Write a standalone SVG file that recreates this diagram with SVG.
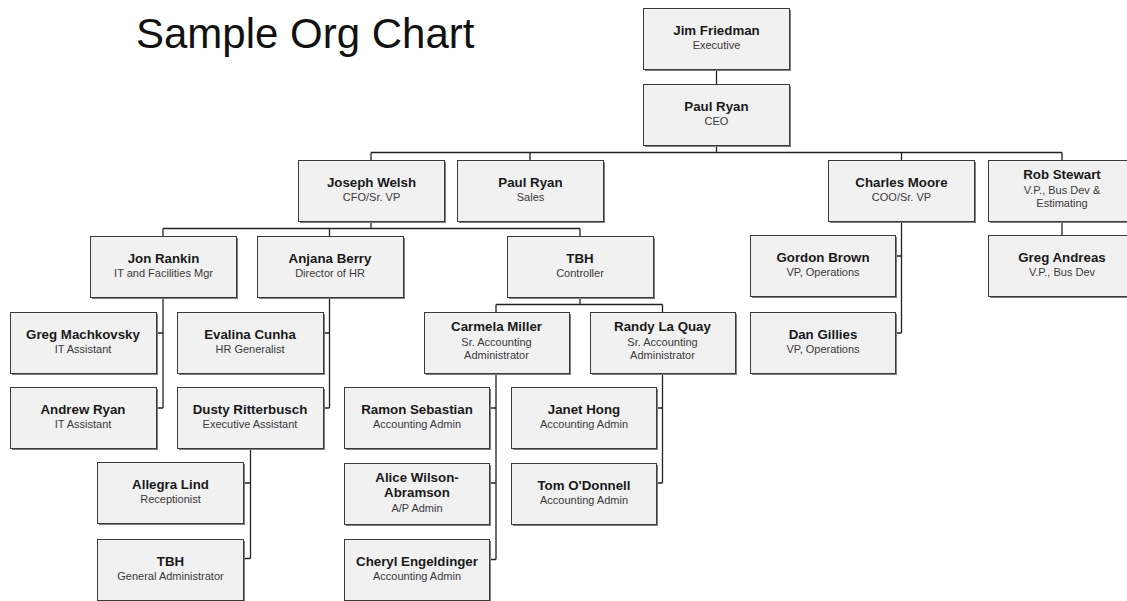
<svg xmlns="http://www.w3.org/2000/svg" width="1127" height="601" viewBox="0 0 1127 601">
<style>
.sh{fill:#808080}
.bx{fill:#f1f1f1;stroke:#3a3a3a;stroke-width:1}
.nm{font-family:"Liberation Sans",Arial,sans-serif;font-weight:bold;font-size:13.3px;fill:#1a1a1a;text-anchor:middle}
.sb{font-family:"Liberation Sans",Arial,sans-serif;font-size:11px;fill:#3a3a3a;text-anchor:middle}
.ttl{font-family:"Liberation Sans",Arial,sans-serif;font-size:42px;fill:#111}
.cn{stroke:#222;stroke-width:1.3;fill:none}
</style>
<rect width="1127" height="601" fill="#fff"/>
<text class="ttl" x="136" y="48">Sample Org Chart</text>
<g id="connectors">
<path class="cn" d="M716.5 69V84M716.5 145V152.5M371 152.5H1062M371 152.5V160M530 152.5V160M901.5 152.5V160M1062 152.5V160"/>
<path class="cn" d="M371 221V228.5M163 228.5H580M163 228.5V236M329.5 228.5V236M580 228.5V236"/>
<path class="cn" d="M163 297V408M156 333H163M156 408H163"/>
<path class="cn" d="M329.5 297V408M323 333H329.5M323 408H329.5"/>
<path class="cn" d="M250.5 448V558.5M243 483H250.5M243 558.5H250.5"/>
<path class="cn" d="M580 297V304.5M496 304.5H662.5M496 304.5V312M662.5 304.5V312"/>
<path class="cn" d="M496 373V559.5M489 408H496M489 483H496M489 559.5H496"/>
<path class="cn" d="M662.5 373V483M656 408H662.5M656 483H662.5"/>
<path class="cn" d="M901.5 221V333M895 256H901.5M895 333H901.5"/>
<path class="cn" d="M1062 221V235"/>
</g>
<g id="jim"><rect class="sh" x="645" y="10" width="146" height="61"/><rect class="bx" x="643.5" y="8.5" width="146" height="61"/><text class="nm" x="716.5" y="34.5">Jim Friedman</text><text class="sb" x="716.5" y="49">Executive</text></g>
<g id="ceo"><rect class="sh" x="645" y="86" width="146" height="61"/><rect class="bx" x="643.5" y="84.5" width="146" height="61"/><text class="nm" x="716.5" y="110.5">Paul Ryan</text><text class="sb" x="716.5" y="125">CEO</text></g>
<g id="welsh"><rect class="sh" x="300" y="162" width="146" height="61"/><rect class="bx" x="298.5" y="160.5" width="146" height="61"/><text class="nm" x="371.5" y="186.5">Joseph Welsh</text><text class="sb" x="371.5" y="201">CFO/Sr. VP</text></g>
<g id="sales"><rect class="sh" x="459" y="162" width="146" height="61"/><rect class="bx" x="457.5" y="160.5" width="146" height="61"/><text class="nm" x="530.5" y="186.5">Paul Ryan</text><text class="sb" x="530.5" y="201">Sales</text></g>
<g id="moore"><rect class="sh" x="830" y="162" width="146" height="61"/><rect class="bx" x="828.5" y="160.5" width="146" height="61"/><text class="nm" x="901.5" y="186.5">Charles Moore</text><text class="sb" x="901.5" y="201">COO/Sr. VP</text></g>
<g id="stewart"><rect class="sh" x="990" y="162" width="148" height="61"/><rect class="bx" x="988.5" y="160.5" width="148" height="61"/><text class="nm" x="1062" y="179">Rob Stewart</text><text class="sb" x="1062" y="194">V.P., Bus Dev &amp;</text><text class="sb" x="1062" y="207">Estimating</text></g>
<g id="andreas"><rect class="sh" x="990" y="237" width="148" height="61"/><rect class="bx" x="988.5" y="235.5" width="148" height="61"/><text class="nm" x="1062" y="261.5">Greg Andreas</text><text class="sb" x="1062" y="276">V.P., Bus Dev</text></g>
<g id="gbrown"><rect class="sh" x="752" y="237" width="145" height="61"/><rect class="bx" x="750.5" y="235.5" width="145" height="61"/><text class="nm" x="823" y="261.5">Gordon Brown</text><text class="sb" x="823" y="276">VP, Operations</text></g>
<g id="gillies"><rect class="sh" x="752" y="314" width="145" height="61"/><rect class="bx" x="750.5" y="312.5" width="145" height="61"/><text class="nm" x="823" y="338.5">Dan Gillies</text><text class="sb" x="823" y="353">VP, Operations</text></g>
<g id="rankin"><rect class="sh" x="92" y="238" width="146" height="61"/><rect class="bx" x="90.5" y="236.5" width="146" height="61"/><text class="nm" x="163.5" y="262.5">Jon Rankin</text><text class="sb" x="163.5" y="277">IT and Facilities Mgr</text></g>
<g id="berry"><rect class="sh" x="259" y="238" width="146" height="61"/><rect class="bx" x="257.5" y="236.5" width="146" height="61"/><text class="nm" x="330" y="262.5">Anjana Berry</text><text class="sb" x="330" y="277">Director of HR</text></g>
<g id="controller"><rect class="sh" x="509" y="238" width="146" height="61"/><rect class="bx" x="507.5" y="236.5" width="146" height="61"/><text class="nm" x="580" y="262.5">TBH</text><text class="sb" x="580" y="277">Controller</text></g>
<g id="machkovsky"><rect class="sh" x="12" y="314" width="146" height="61"/><rect class="bx" x="10.5" y="312.5" width="146" height="61"/><text class="nm" x="83" y="338.5">Greg Machkovsky</text><text class="sb" x="83" y="353">IT Assistant</text></g>
<g id="cunha"><rect class="sh" x="179" y="314" width="146" height="61"/><rect class="bx" x="177.5" y="312.5" width="146" height="61"/><text class="nm" x="250" y="338.5">Evalina Cunha</text><text class="sb" x="250" y="353">HR Generalist</text></g>
<g id="miller"><rect class="sh" x="426" y="314" width="145" height="61"/><rect class="bx" x="424.5" y="312.5" width="145" height="61"/><text class="nm" x="496.5" y="331">Carmela Miller</text><text class="sb" x="496.5" y="345.5">Sr. Accounting</text><text class="sb" x="496.5" y="358.5">Administrator</text></g>
<g id="laquay"><rect class="sh" x="592" y="314" width="145" height="61"/><rect class="bx" x="590.5" y="312.5" width="145" height="61"/><text class="nm" x="662.5" y="331">Randy La Quay</text><text class="sb" x="662.5" y="345.5">Sr. Accounting</text><text class="sb" x="662.5" y="358.5">Administrator</text></g>
<g id="aryan"><rect class="sh" x="12" y="389" width="146" height="61"/><rect class="bx" x="10.5" y="387.5" width="146" height="61"/><text class="nm" x="83" y="413.5">Andrew Ryan</text><text class="sb" x="83" y="428">IT Assistant</text></g>
<g id="dusty"><rect class="sh" x="179" y="389" width="146" height="61"/><rect class="bx" x="177.5" y="387.5" width="146" height="61"/><text class="nm" x="250" y="413.5">Dusty Ritterbusch</text><text class="sb" x="250" y="428">Executive Assistant</text></g>
<g id="sebastian"><rect class="sh" x="346" y="389" width="145" height="61"/><rect class="bx" x="344.5" y="387.5" width="145" height="61"/><text class="nm" x="417" y="413.5">Ramon Sebastian</text><text class="sb" x="417" y="428">Accounting Admin</text></g>
<g id="hong"><rect class="sh" x="513" y="389" width="145" height="61"/><rect class="bx" x="511.5" y="387.5" width="145" height="61"/><text class="nm" x="584" y="413.5">Janet Hong</text><text class="sb" x="584" y="428">Accounting Admin</text></g>
<g id="allegra"><rect class="sh" x="99" y="464" width="146" height="61"/><rect class="bx" x="97.5" y="462.5" width="146" height="61"/><text class="nm" x="170.5" y="488.5">Allegra Lind</text><text class="sb" x="170.5" y="503">Receptionist</text></g>
<g id="wilson"><rect class="sh" x="346" y="465" width="145" height="61"/><rect class="bx" x="344.5" y="463.5" width="145" height="61"/><text class="nm" x="417" y="482">Alice Wilson-</text><text class="nm" x="417" y="497">Abramson</text><text class="sb" x="417" y="511.5">A/P Admin</text></g>
<g id="odonnell"><rect class="sh" x="513" y="465" width="145" height="61"/><rect class="bx" x="511.5" y="463.5" width="145" height="61"/><text class="nm" x="584" y="489.5">Tom O'Donnell</text><text class="sb" x="584" y="504">Accounting Admin</text></g>
<g id="tbhgen"><rect class="sh" x="99" y="541" width="146" height="61"/><rect class="bx" x="97.5" y="539.5" width="146" height="61"/><text class="nm" x="170.5" y="565.5">TBH</text><text class="sb" x="170.5" y="580">General Administrator</text></g>
<g id="cheryl"><rect class="sh" x="346" y="541" width="145" height="61"/><rect class="bx" x="344.5" y="539.5" width="145" height="61"/><text class="nm" x="417" y="565.5">Cheryl Engeldinger</text><text class="sb" x="417" y="580">Accounting Admin</text></g>
</svg>
